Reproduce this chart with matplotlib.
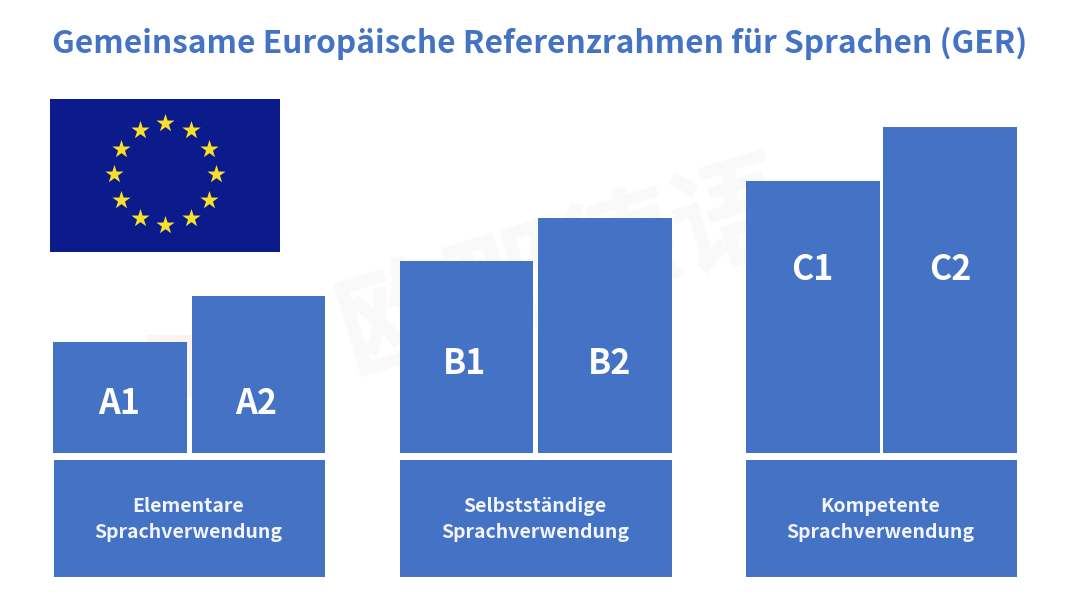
import numpy as np
import matplotlib
matplotlib.use("Agg")
import matplotlib.pyplot as plt

plt.rcParams['font.family'] = ['Noto Sans CJK SC', 'DejaVu Sans']

title = "Gemeinsame Europäische Referenzrahmen für Sprachen (GER)"
levels = ["A1", "A2", "B1", "B2", "C1", "C2"]
level_heights = [111, 157, 192, 235, 272, 326]
level_lefts = [53, 192, 400, 538, 746, 883]
level_widths = [134, 133, 133, 134, 134, 134]
level_label_x = [119, 256, 465, 610, 812, 950]
level_label_y = [403, 403, 364, 364, 269, 269]
group_names = ["Elementare\nSprachverwendung", "Selbstständige\nSprachverwendung", "Kompetente\nSprachverwendung"]
group_lefts = [54, 400, 746]
group_widths = [271, 272, 271]
star_angles = [90, 60, 30, 0, -30, -60, -90, -120, -150, 180, 150, 120]

BLUE = "#4472C4"
base_y = 453

fig = plt.figure(figsize=(10.8, 6.08), dpi=100)
ax = fig.add_axes([0, 0, 1, 1])
ax.set_xlim(0, 1080)
ax.set_ylim(608, 0)
ax.axis("off")

ax.text(540, 43, title, color=BLUE, fontsize=22.8, fontweight="bold", ha="center", va="center")

# faint watermark behind the bars
ax.text(565, 272, "欧那德语", color="#F9F9F9", fontsize=84, fontweight="bold", rotation=17,
        ha="center", va="center", zorder=1)
ax.bar([177], [62], width=60, bottom=335, color="#FDF3F0", zorder=1)

# flag
ax.bar([165], [153], width=230, bottom=98.5, color="#0B1B8C", zorder=2)
cx, cy, r = 165, 174, 51
sx = cx + r * np.cos(np.radians(star_angles))
sy = cy - r * np.sin(np.radians(star_angles))
ax.scatter(sx, sy, marker="*", s=190, color="#F7DF2B", linewidths=0, zorder=3)

# level bars
ax.bar(level_lefts, level_heights, width=level_widths, bottom=[base_y - h for h in level_heights],
       align="edge", color=BLUE, zorder=2)
for name, x, y in zip(levels, level_label_x, level_label_y):
    ax.text(x, y, name, color="white", fontsize=24.5, fontweight="bold", ha="center", va="center", zorder=3)

# group boxes
ax.bar(group_lefts, [117] * 3, width=group_widths, bottom=460, align="edge", color=BLUE, zorder=2)
for name, x, w in zip(group_names, group_lefts, group_widths):
    ax.text(x + w / 2 - 1, 519.5, name, color="#F2F5FB", fontsize=14, fontweight="bold", ha="center", va="center",
            linespacing=1.42, zorder=3)

fig.savefig("out.png", dpi=100)
